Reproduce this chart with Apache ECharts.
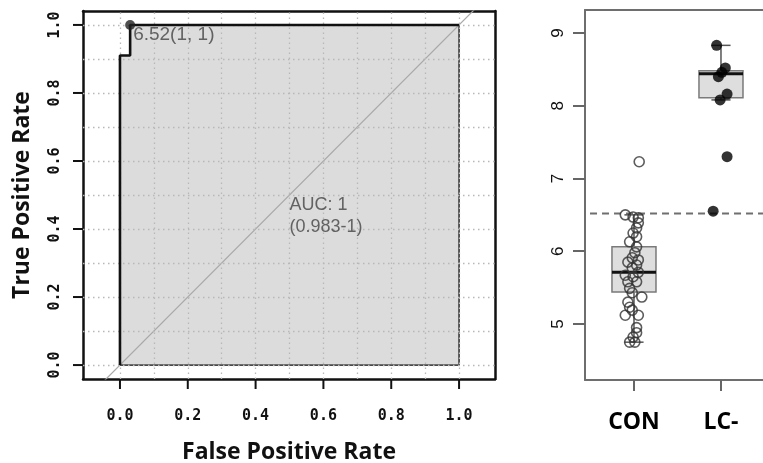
<!DOCTYPE html>
<html><head><meta charset="utf-8">
<script src="https://cdn.jsdelivr.net/npm/echarts@6/dist/echarts.min.js"></script>
<style>html,body{margin:0;padding:0;background:#fff}#c{width:763px;height:463px}</style>
</head><body><div id="c"></div>
<script>
// ---------- ROC panel data ----------
const rocFPR = [0, 0, 0.03, 0.03, 1];
const rocTPR = [0, 0.91, 0.91, 1, 1];
const rocEdgeFPR = [1, 1, 0];
const rocEdgeTPR = [1, 0, 0];
const bestFPR = 0.03, bestTPR = 1.0;
const bestLabel = '6.52(1, 1)';
const aucLines = ['AUC: 1', '(0.983-1)'];
const aucAt = [0.5, 0.437];
const rocTicks = [0, 0.2, 0.4, 0.6, 0.8, 1.0];
const rocGridLines = [0, 0.1, 0.2, 0.3, 0.4, 0.5, 0.6, 0.7, 0.8, 0.9, 1.0];
const diagonal = [[-0.3, -0.3], [1.3, 1.3]];
const rocXMin = -0.109, rocXMax = 1.106, rocYMin = -0.041, rocYMax = 1.041;

// ---------- Box panel data ----------
const groups = ['CON', 'LC-'];
const conValues = [7.23, 6.50, 6.47, 6.46, 6.39, 6.32, 6.25, 6.20, 6.13, 6.06, 5.98, 5.91, 5.88, 5.85, 5.81, 5.77, 5.71, 5.67, 5.65, 5.58, 5.58, 5.49, 5.43, 5.37, 5.30, 5.23, 5.19, 5.12, 5.12, 4.95, 4.88, 4.82, 4.75, 4.75];
const conJitter = [0.06, -0.10, -0.01, 0.05, 0.05, 0.03, -0.01, 0.03, -0.05, 0.03, 0.01, -0.02, 0.05, -0.07, 0.03, -0.02, 0.05, -0.10, -0.01, -0.07, 0.03, -0.05, -0.02, 0.09, -0.07, -0.05, -0.02, -0.10, 0.05, 0.03, 0.03, -0.01, -0.05, 0.01];
const lcValues = [8.83, 8.52, 8.46, 8.40, 8.16, 8.08, 7.30, 6.55];
const lcJitter = [-0.05, 0.05, 0.01, -0.03, 0.07, -0.01, 0.07, -0.09];
// [lower whisker, Q1, median, Q3, upper whisker]
const boxStats = [[4.75, 5.44, 5.71, 6.06, 6.50], [8.08, 8.11, 8.44, 8.48, 8.83]];
const cutoff = 6.52;
const boxTicks = [5, 6, 7, 8, 9];

const chart = echarts.init(document.getElementById('c'), null, {renderer: 'canvas'});

const monoBold = {fontFamily: 'DejaVu Sans Mono', fontWeight: 'bold', fontSize: 15, color: '#111'};
const titleFont = {fontFamily: 'Open Sans', fontWeight: 'bold', fontSize: 23, color: '#111'};
const boxAxisLine = {show: true, onZero: false, lineStyle: {color: '#6e6e6e', width: 2}};
const rocAxisLine = {show: true, onZero: false, lineStyle: {color: '#111', width: 2.5}};

const option = {
  animation: false,
  backgroundColor: '#fff',
  grid: [
    {left: 83, top: 11, width: 412, height: 368, show: false, outerBoundsMode: 'none', containLabel: false},
    {left: 585, top: 10, width: 178, height: 370, show: false, outerBoundsMode: 'none', containLabel: false}
  ],
  xAxis: [
    {gridIndex: 0, type: 'value', min: rocXMin, max: rocXMax, position: 'bottom',
     axisLine: rocAxisLine, splitLine: {show: false}, axisTick: {show: false},
     axisLabel: {show: true, customValues: rocTicks, margin: 30, formatter: v => v.toFixed(1), ...monoBold},
     name: 'False Positive Rate', nameLocation: 'middle', nameGap: 62, nameTextStyle: titleFont},
    {gridIndex: 0, type: 'value', min: rocXMin, max: rocXMax, position: 'top',
     axisLine: rocAxisLine, splitLine: {show: false}, axisTick: {show: false}, axisLabel: {show: false}},
    {gridIndex: 1, type: 'value', min: 0.437, max: 0.437 + 178 / 87, position: 'bottom',
     axisLine: boxAxisLine, splitLine: {show: false},
     axisTick: {show: true, inside: false, customValues: [1, 2], length: 11, lineStyle: {color: '#666', width: 2}},
     axisLabel: {show: true, customValues: [1, 2], margin: 31, formatter: v => groups[Math.round(v) - 1] || '',
       fontFamily: 'Open Sans', fontWeight: 'bold', fontSize: 23, color: '#000'}},
    {gridIndex: 1, type: 'value', min: 0.437, max: 0.437 + 178 / 87, position: 'top',
     axisLine: boxAxisLine, splitLine: {show: false}, axisTick: {show: false}, axisLabel: {show: false}}
  ],
  yAxis: [
    {gridIndex: 0, type: 'value', min: rocYMin, max: rocYMax, position: 'left',
     axisLine: rocAxisLine, splitLine: {show: false}, axisTick: {show: false},
     axisLabel: {show: true, customValues: rocTicks, rotate: 90, margin: 20, formatter: v => v.toFixed(1), ...monoBold},
     name: 'True Positive Rate', nameLocation: 'middle', nameRotate: 90, nameGap: 49, nameTextStyle: titleFont},
    {gridIndex: 0, type: 'value', min: rocYMin, max: rocYMax, position: 'right',
     axisLine: rocAxisLine, splitLine: {show: false}, axisTick: {show: false}, axisLabel: {show: false}},
    {gridIndex: 1, type: 'value', min: 4.23, max: 9.316, position: 'left',
     axisLine: boxAxisLine, splitLine: {show: false},
     axisTick: {show: true, inside: false, customValues: boxTicks, length: 12, lineStyle: {color: '#666', width: 2}},
     axisLabel: {show: true, customValues: boxTicks, rotate: 90, margin: 18,
       fontFamily: 'Liberation Sans', fontSize: 17, color: '#111'}}
  ],
  series: [
    // ROC filled area
    {type: 'line', xAxisIndex: 0, yAxisIndex: 0, z: 2, silent: true, symbol: 'none',
     data: rocFPR.map((x, i) => [x, rocTPR[i]]),
     lineStyle: {width: 0}, areaStyle: {color: '#dcdcdc', opacity: 1, origin: 0}},
    // dotted grid lines
    {type: 'line', xAxisIndex: 0, yAxisIndex: 0, z: 3, silent: true, symbol: 'none', data: [],
     markLine: {silent: true, symbol: ['none', 'none'], label: {show: false}, animation: false,
       lineStyle: {type: [1.5, 3.5], color: '#b8b8b8', width: 1.3},
       data: rocGridLines.map(v => ({xAxis: v})).concat(rocGridLines.map(v => ({yAxis: v})))}},
    // diagonal reference
    {type: 'line', xAxisIndex: 0, yAxisIndex: 0, z: 3, silent: true, symbol: 'none', clip: true,
     data: diagonal, lineStyle: {color: '#a8a8a8', width: 1.2}},
    // right & bottom edges of the area
    {type: 'line', xAxisIndex: 0, yAxisIndex: 0, z: 4, silent: true, symbol: 'none',
     data: rocEdgeFPR.map((x, i) => [x, rocEdgeTPR[i]]), lineStyle: {color: '#4a4a4a', width: 1.8}},
    // ROC curve
    {type: 'line', xAxisIndex: 0, yAxisIndex: 0, z: 5, silent: true, symbol: 'none',
     data: rocFPR.map((x, i) => [x, rocTPR[i]]), lineStyle: {color: '#111', width: 2.6}},
    // best threshold point
    {type: 'scatter', xAxisIndex: 0, yAxisIndex: 0, z: 6, silent: true, symbolSize: 10,
     data: [[bestFPR, bestTPR]], itemStyle: {color: '#222'},
     label: {show: true, formatter: bestLabel, position: [8, 5], align: 'left', verticalAlign: 'top',
       fontFamily: 'Liberation Sans', fontSize: 19, color: '#444'}},
    // AUC text
    {type: 'scatter', xAxisIndex: 0, yAxisIndex: 0, z: 6, silent: true, symbolSize: 0,
     data: [aucAt], itemStyle: {color: 'transparent'},
     label: {show: true, formatter: aucLines.join('\n'), position: 'right', distance: 0, align: 'left',
       lineHeight: 22, fontFamily: 'Liberation Sans', fontSize: 18, color: '#444'}},
    // cutoff dashed line
    {type: 'line', xAxisIndex: 2, yAxisIndex: 2, z: 3, silent: true, symbol: 'none', clip: false,
     data: [[-0.057, cutoff], [3.0, cutoff]], lineStyle: {color: '#6f6f6f', width: 2, type: [7, 5]}},
    // boxes
    {type: 'custom', xAxisIndex: 2, yAxisIndex: 2, z: 4, silent: true,
     data: boxStats.map((s, i) => [i + 1].concat(s)),
     renderItem: function (params, api) {
       const x = api.value(0);
       const lo = api.value(1), q1 = api.value(2), med = api.value(3), q3 = api.value(4), hi = api.value(5);
       const tl = api.coord([x - 0.253, q3]);
       const br = api.coord([x + 0.253, q1]);
       const top = api.coord([x, hi]);
       const bot = api.coord([x, lo]);
       const cl = api.coord([x - 0.11, hi])[0];
       const cr = api.coord([x + 0.11, hi])[0];
       const my = api.coord([x, med])[1];
       const ws = {stroke: '#555', lineWidth: 1.5};
       return {type: 'group', children: [
         {type: 'line', shape: {x1: top[0], y1: top[1], x2: top[0], y2: tl[1]}, style: ws},
         {type: 'line', shape: {x1: bot[0], y1: br[1], x2: bot[0], y2: bot[1]}, style: ws},
         {type: 'line', shape: {x1: cl, y1: top[1], x2: cr, y2: top[1]}, style: ws},
         {type: 'line', shape: {x1: cl, y1: bot[1], x2: cr, y2: bot[1]}, style: ws},
         {type: 'rect', shape: {x: tl[0], y: tl[1], width: br[0] - tl[0], height: br[1] - tl[1]},
          style: {fill: '#dedede', stroke: '#7a7a7a', lineWidth: 1.5}},
         {type: 'line', shape: {x1: tl[0], y1: my, x2: br[0], y2: my}, style: {stroke: '#111', lineWidth: 3}}
       ]};
     }},
    // CON points
    {type: 'scatter', xAxisIndex: 2, yAxisIndex: 2, z: 5, silent: true, symbol: 'circle', symbolSize: 10,
     data: conValues.map((v, i) => [1 + conJitter[i], v]),
     itemStyle: {color: 'rgba(0,0,0,0)', borderColor: '#333', borderWidth: 1.6}},
    // LC- points
    {type: 'scatter', xAxisIndex: 2, yAxisIndex: 2, z: 5, silent: true, symbol: 'circle', symbolSize: 11,
     data: lcValues.map((v, i) => [2 + lcJitter[i], v]),
     itemStyle: {color: '#000'}}
  ]
};
chart.setOption(option);

// tick marks of the ROC axes, placed through the chart's own scales
const tickEls = [];
rocTicks.forEach(function (v) {
  const px = chart.convertToPixel({xAxisIndex: 0, yAxisIndex: 0}, [v, rocYMin]);
  const py = chart.convertToPixel({xAxisIndex: 0, yAxisIndex: 0}, [rocXMin, v]);
  if (px && py) {
    tickEls.push({type: 'line', z: 50, silent: true,
      shape: {x1: px[0], y1: px[1], x2: px[0], y2: px[1] + 10}, style: {stroke: '#111', lineWidth: 2}});
    tickEls.push({type: 'line', z: 50, silent: true,
      shape: {x1: py[0], y1: py[1], x2: py[0] - 10, y2: py[1]}, style: {stroke: '#111', lineWidth: 2}});
  }
});
chart.setOption({graphic: tickEls});
</script>
</body></html>
